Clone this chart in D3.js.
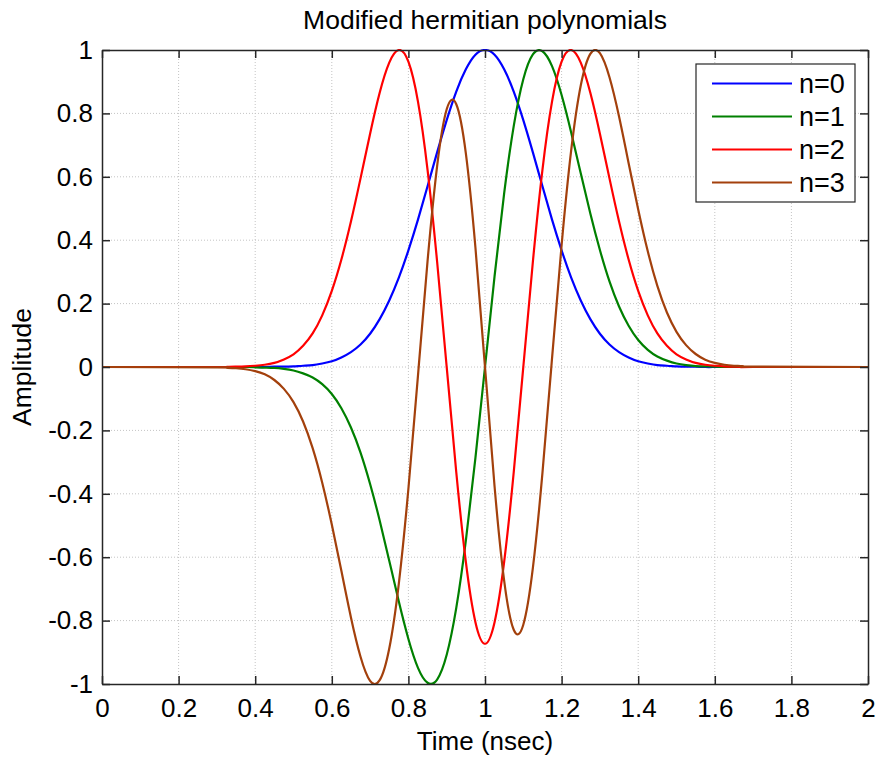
<!DOCTYPE html>
<html>
<head>
<meta charset="utf-8">
<script src="https://cdn.jsdelivr.net/npm/d3@7"></script>
<style>
  body { margin: 0; background: #fff; }
  text { font-family: "Liberation Sans", Arial, sans-serif; fill: #000; }
  .tick-label { font-size: 26px; }
</style>
</head>
<body>
<div id="chart"></div>
<script>
// time samples (nsec)
const time = [0,
  0.3, 0.325, 0.35, 0.375, 0.4, 0.425, 0.45, 0.475, 0.5, 0.525, 0.55, 0.575, 0.6, 0.625,
  0.65, 0.675, 0.7, 0.725, 0.75, 0.775, 0.8, 0.825, 0.85, 0.875, 0.9, 0.925, 0.95, 0.975,
  1, 1.025, 1.05, 1.075, 1.1, 1.125, 1.15, 1.175, 1.2, 1.225, 1.25, 1.275, 1.3, 1.325,
  1.35, 1.375, 1.4, 1.425, 1.45, 1.475, 1.5, 1.525, 1.55, 1.575, 1.6, 1.625, 1.65, 1.675, 1.7,
  2];

// amplitude
const n0 = [0,
  0, 0, 0, 0, 0, 0, 0.001, 0.001, 0.002, 0.004, 0.006, 0.011, 0.018, 0.030,
  0.047, 0.071, 0.105, 0.151, 0.210, 0.282, 0.368, 0.465, 0.570, 0.677, 0.779, 0.869, 0.939, 0.985,
  1, 0.985, 0.939, 0.869, 0.779, 0.677, 0.570, 0.465, 0.368, 0.282, 0.210, 0.151, 0.105, 0.071,
  0.047, 0.030, 0.018, 0.011, 0.006, 0.004, 0.002, 0.001, 0.001, 0, 0, 0, 0, 0, 0,
  0];
const n1 = [0,
  0, 0, 0, 0, -0.001, -0.002, -0.003, -0.006, -0.011, -0.020, -0.033, -0.054, -0.085, -0.130,
  -0.191, -0.270, -0.369, -0.484, -0.611, -0.740, -0.858, -0.949, -0.996, -0.986, -0.908, -0.760, -0.548, -0.287,
  0, 0.287, 0.548, 0.760, 0.908, 0.986, 0.996, 0.949, 0.858, 0.740, 0.611, 0.484, 0.369, 0.270,
  0.191, 0.130, 0.085, 0.054, 0.033, 0.020, 0.011, 0.006, 0.003, 0.002, 0.001, 0, 0, 0, 0,
  0];
const n2 = [0,
  0, 0, 0.001, 0.002, 0.004, 0.007, 0.013, 0.024, 0.040, 0.067, 0.106, 0.163, 0.240, 0.339,
  0.459, 0.595, 0.736, 0.865, 0.960, 1.000, 0.963, 0.837, 0.622, 0.332, 0, -0.332, -0.615, -0.805,
  -0.873, -0.805, -0.615, -0.332, 0, 0.332, 0.622, 0.837, 0.963, 1.000, 0.960, 0.865, 0.736, 0.595,
  0.459, 0.339, 0.240, 0.163, 0.106, 0.067, 0.040, 0.024, 0.013, 0.007, 0.004, 0.002, 0.001, 0, 0,
  0];
const n3 = [0,
  -0.001, -0.002, -0.004, -0.007, -0.013, -0.023, -0.041, -0.069, -0.111, -0.172, -0.256, -0.365, -0.497, -0.643,
  -0.790, -0.914, -0.990, -0.988, -0.888, -0.683, -0.384, -0.027, 0.334, 0.634, 0.813, 0.829, 0.674, 0.377,
  0, -0.377, -0.674, -0.829, -0.813, -0.634, -0.334, 0.027, 0.384, 0.683, 0.888, 0.988, 0.990, 0.914,
  0.790, 0.643, 0.497, 0.365, 0.256, 0.172, 0.111, 0.069, 0.041, 0.023, 0.013, 0.007, 0.004, 0.002, 0.001,
  0];

const seriesNames = ["n=0", "n=1", "n=2", "n=3"];
const seriesValues = [n0, n1, n2, n3];
const seriesColors = ["#0000ff", "#008000", "#ff0000", "#a3400c"];

const xTicks = [0, 0.2, 0.4, 0.6, 0.8, 1, 1.2, 1.4, 1.6, 1.8, 2];
const yTicks = [-1, -0.8, -0.6, -0.4, -0.2, 0, 0.2, 0.4, 0.6, 0.8, 1];

// set the dimensions and margins of the graph
const margin = {top: 50, right: 9, bottom: 74, left: 102},
    width = 877 - margin.left - margin.right,
    height = 758 - margin.top - margin.bottom;

const svg = d3.select("#chart")
  .append("svg")
    .attr("width", 877)
    .attr("height", 758)
  .append("g")
    .attr("transform", `translate(${margin.left},${margin.top})`);

const x = d3.scaleLinear().domain([0, 2]).range([0, width]);
const y = d3.scaleLinear().domain([-1, 1]).range([height, 0]);

// grid (dotted)
svg.append("g")
  .selectAll("line")
  .data(xTicks.slice(1, -1))
  .join("line")
    .attr("x1", d => x(d)).attr("x2", d => x(d))
    .attr("y1", 0).attr("y2", height)
    .attr("stroke", "#c4c4c4")
    .attr("stroke-dasharray", "1,2");
svg.append("g")
  .selectAll("line")
  .data(yTicks.slice(1, -1))
  .join("line")
    .attr("y1", d => y(d)).attr("y2", d => y(d))
    .attr("x1", 0).attr("x2", width)
    .attr("stroke", "#c4c4c4")
    .attr("stroke-dasharray", "1,2");

// curves
svg.append("clipPath").attr("id", "plotClip")
  .append("rect").attr("x", 0).attr("y", -1).attr("width", width).attr("height", height + 2);

const line = d3.line()
  .x(d => x(d[0]))
  .y(d => y(d[1]))
  .curve(d3.curveNatural);

seriesValues.forEach((vals, i) => {
  svg.append("path")
    .datum(time.map((t, j) => [t, vals[j]]))
    .attr("clip-path", "url(#plotClip)")
    .attr("fill", "none")
    .attr("stroke", seriesColors[i])
    .attr("stroke-width", 2.2)
    .attr("stroke-linejoin", "round")
    .attr("d", line);
});

// axes with inward ticks on all four sides
const fmt = d => String(d);
const styleAxis = g => {
  g.select(".domain").attr("stroke", "#262626").attr("stroke-width", 1.5);
  g.selectAll(".tick line").attr("stroke", "#262626").attr("stroke-width", 1.5);
  g.selectAll(".tick text").attr("class", "tick-label").attr("fill", "#000");
  g.attr("font-family", null).attr("font-size", null);
};

svg.append("g")
  .attr("transform", `translate(0,${height})`)
  .call(d3.axisBottom(x).tickValues(xTicks).tickFormat(fmt)
    .tickSizeInner(-8).tickSizeOuter(0).tickPadding(15))
  .call(styleAxis);
svg.append("g")
  .call(d3.axisTop(x).tickValues(xTicks).tickFormat("")
    .tickSizeInner(-8).tickSizeOuter(0))
  .call(styleAxis);
svg.append("g")
  .call(d3.axisLeft(y).tickValues(yTicks).tickFormat(fmt)
    .tickSizeInner(-8).tickSizeOuter(0).tickPadding(9))
  .call(styleAxis);
svg.append("g")
  .attr("transform", `translate(${width},0)`)
  .call(d3.axisRight(y).tickValues(yTicks).tickFormat("")
    .tickSizeInner(-8).tickSizeOuter(0))
  .call(styleAxis);

// title and axis labels
svg.append("text")
  .attr("x", width / 2)
  .attr("y", -21)
  .attr("text-anchor", "middle")
  .style("font-size", "26.5px")
  .text("Modified hermitian polynomials");

svg.append("text")
  .attr("x", width / 2)
  .attr("y", height + 66)
  .attr("text-anchor", "middle")
  .style("font-size", "26px")
  .text("Time (nsec)");

svg.append("text")
  .attr("transform", `translate(${31 - margin.left},${height / 2}) rotate(-90)`)
  .attr("text-anchor", "middle")
  .style("font-size", "26.5px")
  .text("Amplitude");

// legend
const legend = svg.append("g")
  .attr("transform", `translate(${696 - margin.left},${64 - margin.top})`);
legend.append("rect")
  .attr("width", 159)
  .attr("height", 138)
  .attr("fill", "#fff")
  .attr("stroke", "#262626")
  .attr("stroke-width", 1.2);
seriesNames.forEach((name, i) => {
  const ly = 19.5 + i * 33;
  legend.append("line")
    .attr("x1", 16).attr("x2", 96)
    .attr("y1", ly).attr("y2", ly)
    .attr("stroke", seriesColors[i])
    .attr("stroke-width", 2.2);
  legend.append("text")
    .attr("x", 103)
    .attr("y", ly)
    .attr("dy", "0.36em")
    .style("font-size", "27px")
    .text(name);
});
</script>
</body>
</html>
